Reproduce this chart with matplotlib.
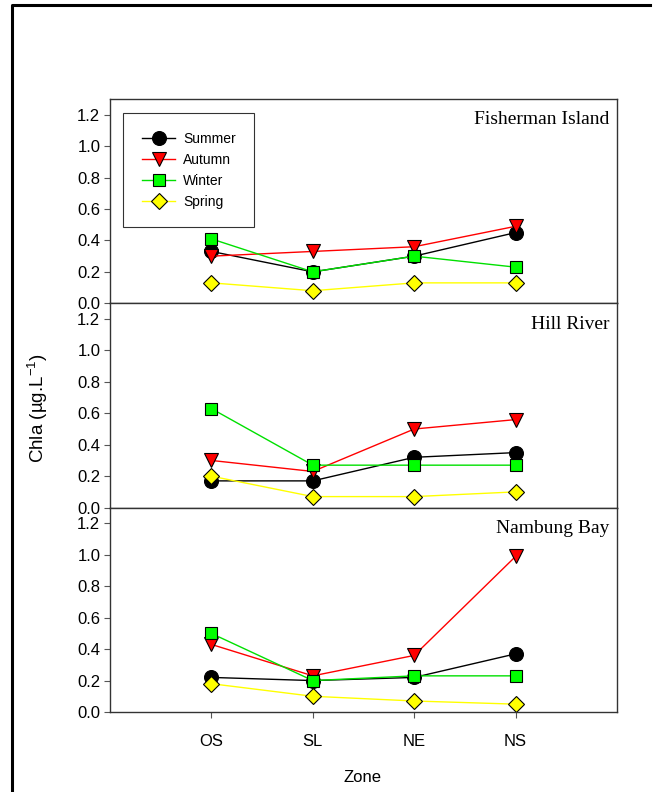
import numpy as np
import matplotlib
matplotlib.use("Agg")
import matplotlib.pyplot as plt
from matplotlib.lines import Line2D

zones = ["OS", "SL", "NE", "NS"]
sites = ["Fisherman Island", "Hill River", "Nambung Bay"]
seasons = ["Summer", "Autumn", "Winter", "Spring"]

# Chla per site, rows in the order of seasons, columns in the order of zones
fisherman = [[0.33, 0.20, 0.30, 0.45],
             [0.30, 0.33, 0.36, 0.49],
             [0.41, 0.20, 0.30, 0.23],
             [0.13, 0.08, 0.13, 0.13]]
hill_river = [[0.17, 0.17, 0.32, 0.35],
              [0.30, 0.23, 0.50, 0.56],
              [0.63, 0.27, 0.27, 0.27],
              [0.20, 0.07, 0.07, 0.10]]
nambung = [[0.22, 0.20, 0.22, 0.37],
           [0.43, 0.23, 0.36, 0.99],
           [0.50, 0.20, 0.23, 0.23],
           [0.18, 0.10, 0.07, 0.05]]
site_data = [fisherman, hill_river, nambung]

line_colors = ["black", "#ff0000", "#00e000", "#ffff00"]
face_colors = ["black", "#ff0000", "#00ff00", "#ffff00"]
markers = ["o", "v", "s", "D"]
msizes = [10, 10, 9, 8]

plt.rcParams["font.family"] = ["Liberation Sans", "DejaVu Sans"]
plt.rcParams["mathtext.fontset"] = "custom"
plt.rcParams["mathtext.rm"] = "Liberation Sans"
plt.rcParams["mathtext.it"] = "Liberation Sans"

fig = plt.figure(figsize=(6.58, 7.92), dpi=100)
W, H = 658, 792
left, right = 110, 617
tops = [99, 303.3, 507.7]
ph = 204.3

x = np.arange(1, len(zones) + 1)
axes = []
for k, site in enumerate(sites):
    top = tops[k]
    ax = fig.add_axes([left / W, 1 - (top + ph) / H, (right - left) / W, ph / H])
    axes.append(ax)
    for s in range(len(seasons)):
        ax.plot(x, site_data[k][s], color=line_colors[s], lw=1.0,
                marker=markers[s], ms=msizes[s], mfc=face_colors[s],
                mec="black", mew=0.8, label=seasons[s], clip_on=False)
    ax.set_xlim(0, 5)
    ax.set_ylim(0, 1.3)
    ax.set_yticks([0.0, 0.2, 0.4, 0.6, 0.8, 1.0, 1.2])
    ax.set_yticklabels(["0.0", "0.2", "0.4", "0.6", "0.8", "1.0", "1.2"])
    ax.set_xticks(x)
    ax.tick_params(direction="out", length=4, width=0.8, color="#555555",
                   labelsize=12, pad=3)
    for sp in ax.spines.values():
        sp.set_color("#333333")
        sp.set_linewidth(1.0)
    ax.text(0.985, 0.94, site, transform=ax.transAxes, ha="right", va="top",
            fontsize=14, family=["Liberation Serif", "DejaVu Serif"])
    if k < 2:
        ax.tick_params(axis="x", labelbottom=False)
    else:
        ax.set_xticklabels(zones)
        ax.tick_params(axis="x", pad=12)

leg = axes[0].legend(loc="upper left", bbox_to_anchor=(0.026, 0.931),
                     borderaxespad=0, fontsize=10, frameon=True, fancybox=False,
                     edgecolor="black", labelspacing=0.5, borderpad=1.35,
                     handlelength=2.4, handletextpad=0.55)
leg.get_frame().set_linewidth(0.8)

fig.text(38 / W, 1 - 408 / H, "Chla (\u00b5g.L$^{-1}$)", rotation=90,
         ha="center", va="center", fontsize=13.5)
fig.text(363 / W, 1 - 777 / H, "Zone", ha="center", va="center", fontsize=12)

# outer frame (left and top edges)
fig.add_artist(Line2D([12 / W, 12 / W, 650 / W], [0, 1 - 5 / H, 1 - 5 / H],
                      transform=fig.transFigure, color="black", lw=2.2))

fig.savefig("out.png", dpi=100)
